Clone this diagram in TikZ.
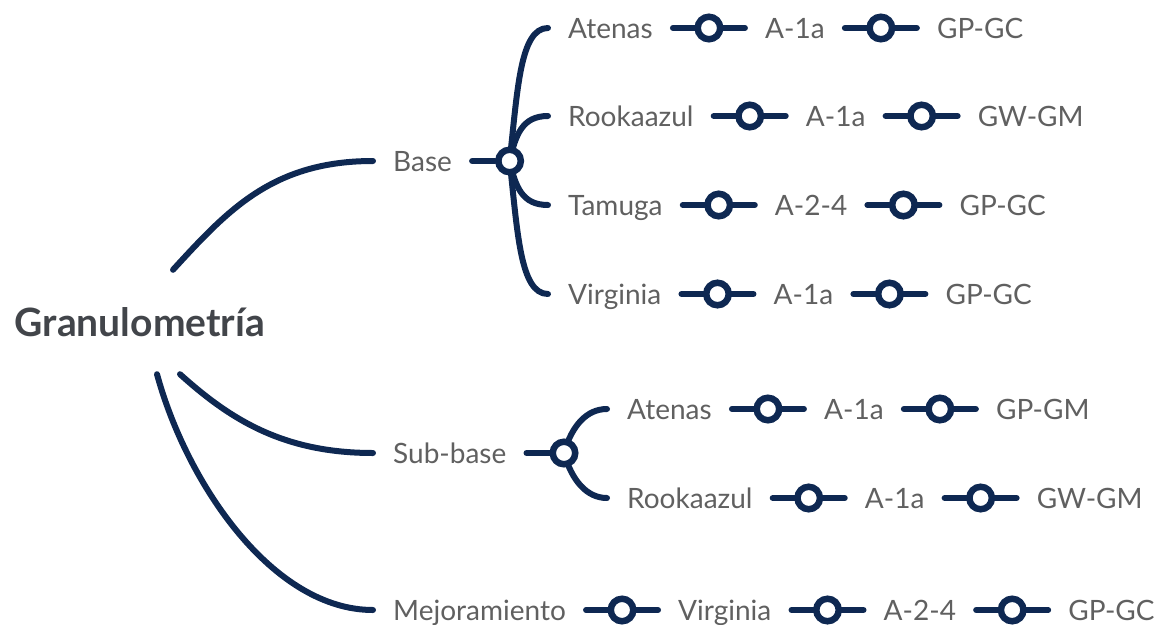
\documentclass[tikz,border=0pt]{standalone}
\usepackage{fontspec}
\setmainfont{Lato}
\usetikzlibrary{positioning,backgrounds}
\definecolor{mynavy}{RGB}{14,40,82}
\definecolor{mygray}{RGB}{96,96,96}
\definecolor{mydarkgray}{RGB}{66,69,74}
\newcommand{\widthlink}{72pt}
\newcommand{\widthhub}{23pt}
\tikzset{
    item/.style={anchor=west, inner xsep=20pt, inner ysep=0pt, text height=20pt, text depth=0pt,
        text=mygray, font=\fontsize{28}{30}\selectfont},
    topic/.style={item, text=mydarkgray, font=\fontsize{39}{40}\selectfont\bfseries,
        anchor=center, inner xsep=0pt, text height=28pt, minimum height=104pt},
    ring/.style={draw=mynavy, circle, line width=6.5pt, fill=white, minimum size=22.5pt, inner sep=0pt},
    link/.style={draw=mynavy, line width=6pt, line cap=round}
}

\begin{document}
\begin{tikzpicture}[x=1pt, y=-1pt]
    \useasboundingbox (0,0) rectangle (1169,624);

    % root and first level
    \node[topic] (gran) at (140,322) {Granulometría};
    \node[item] (base) at (373,161) {Base};
    \node[item] (subbase) at (373,453) {Sub-base};
    \node[item] (mejor) at (373,610) {Mejoramiento};
    \node[ring, right=\widthhub of base] (base-hub) {};
    \node[ring, right=\widthhub of subbase] (sub-hub) {};

    % base: quarry, AASHTO, SUCS
    \node[item] (b-ate) at (548,28) {Atenas};
    \node[item, right=\widthlink of b-ate] (b-ate-aashto) {A-1a};
    \node[item, right=\widthlink of b-ate-aashto] (b-ate-sucs) {GP-GC};
    \node[item] (b-roo) at (548,116) {Rookaazul};
    \node[item, right=\widthlink of b-roo] (b-roo-aashto) {A-1a};
    \node[item, right=\widthlink of b-roo-aashto] (b-roo-sucs) {GW-GM};
    \node[item] (b-tam) at (548,205) {Tamuga};
    \node[item, right=\widthlink of b-tam] (b-tam-aashto) {A-2-4};
    \node[item, right=\widthlink of b-tam-aashto] (b-tam-sucs) {GP-GC};
    \node[item] (b-vir) at (548,294) {Virginia};
    \node[item, right=\widthlink of b-vir] (b-vir-aashto) {A-1a};
    \node[item, right=\widthlink of b-vir-aashto] (b-vir-sucs) {GP-GC};

    % sub-base
    \node[item] (s-ate) at (607,409) {Atenas};
    \node[item, right=\widthlink of s-ate] (s-ate-aashto) {A-1a};
    \node[item, right=\widthlink of s-ate-aashto] (s-ate-sucs) {GP-GM};
    \node[item] (s-roo) at (607,498) {Rookaazul};
    \node[item, right=\widthlink of s-roo] (s-roo-aashto) {A-1a};
    \node[item, right=\widthlink of s-roo-aashto] (s-roo-sucs) {GW-GM};

    % mejoramiento
    \node[item, right=\widthlink of mejor] (m-vir) {Virginia};
    \node[item, right=\widthlink of m-vir] (m-vir-aashto) {A-2-4};
    \node[item, right=\widthlink of m-vir-aashto] (m-vir-sucs) {GP-GC};

    \begin{scope}[on background layer]
        \draw[link] ([xshift=33pt]gran.north) .. controls +(55,-60) and +(-100,0) .. (base.west);
        \draw[link] ([xshift=40pt]gran.south) .. controls +(50,45) and +(-90,0) .. (subbase.west);
        \draw[link] ([xshift=17pt]gran.south) .. controls +(30,110) and +(-100,0) .. (mejor.west);

        \draw[link] (base) -- (base-hub);
        \draw[link] (base-hub.center) .. controls +(8,-71) and +(-28,0) .. (b-ate.west);
        \draw[link] (base-hub.center) .. controls +(6,-26) and +(-26,0) .. (b-roo.west);
        \draw[link] (base-hub.center) .. controls +(6,26) and +(-26,0) .. (b-tam.west);
        \draw[link] (base-hub.center) .. controls +(8,71) and +(-28,0) .. (b-vir.west);

        \draw[link] (subbase) -- (sub-hub);
        \draw[link] (sub-hub.center) .. controls +(8,-28) and +(-20,0) .. (s-ate.west);
        \draw[link] (sub-hub.center) .. controls +(8,28) and +(-20,0) .. (s-roo.west);
    \end{scope}

    \draw[link] (b-ate) -- node[ring]{} (b-ate-aashto);
    \draw[link] (b-ate-aashto) -- node[ring]{} (b-ate-sucs);
    \draw[link] (b-roo) -- node[ring]{} (b-roo-aashto);
    \draw[link] (b-roo-aashto) -- node[ring]{} (b-roo-sucs);
    \draw[link] (b-tam) -- node[ring]{} (b-tam-aashto);
    \draw[link] (b-tam-aashto) -- node[ring]{} (b-tam-sucs);
    \draw[link] (b-vir) -- node[ring]{} (b-vir-aashto);
    \draw[link] (b-vir-aashto) -- node[ring]{} (b-vir-sucs);
    \draw[link] (s-ate) -- node[ring]{} (s-ate-aashto);
    \draw[link] (s-ate-aashto) -- node[ring]{} (s-ate-sucs);
    \draw[link] (s-roo) -- node[ring]{} (s-roo-aashto);
    \draw[link] (s-roo-aashto) -- node[ring]{} (s-roo-sucs);
    \draw[link] (mejor) -- node[ring]{} (m-vir);
    \draw[link] (m-vir) -- node[ring]{} (m-vir-aashto);
    \draw[link] (m-vir-aashto) -- node[ring]{} (m-vir-sucs);
\end{tikzpicture}
\end{document}
